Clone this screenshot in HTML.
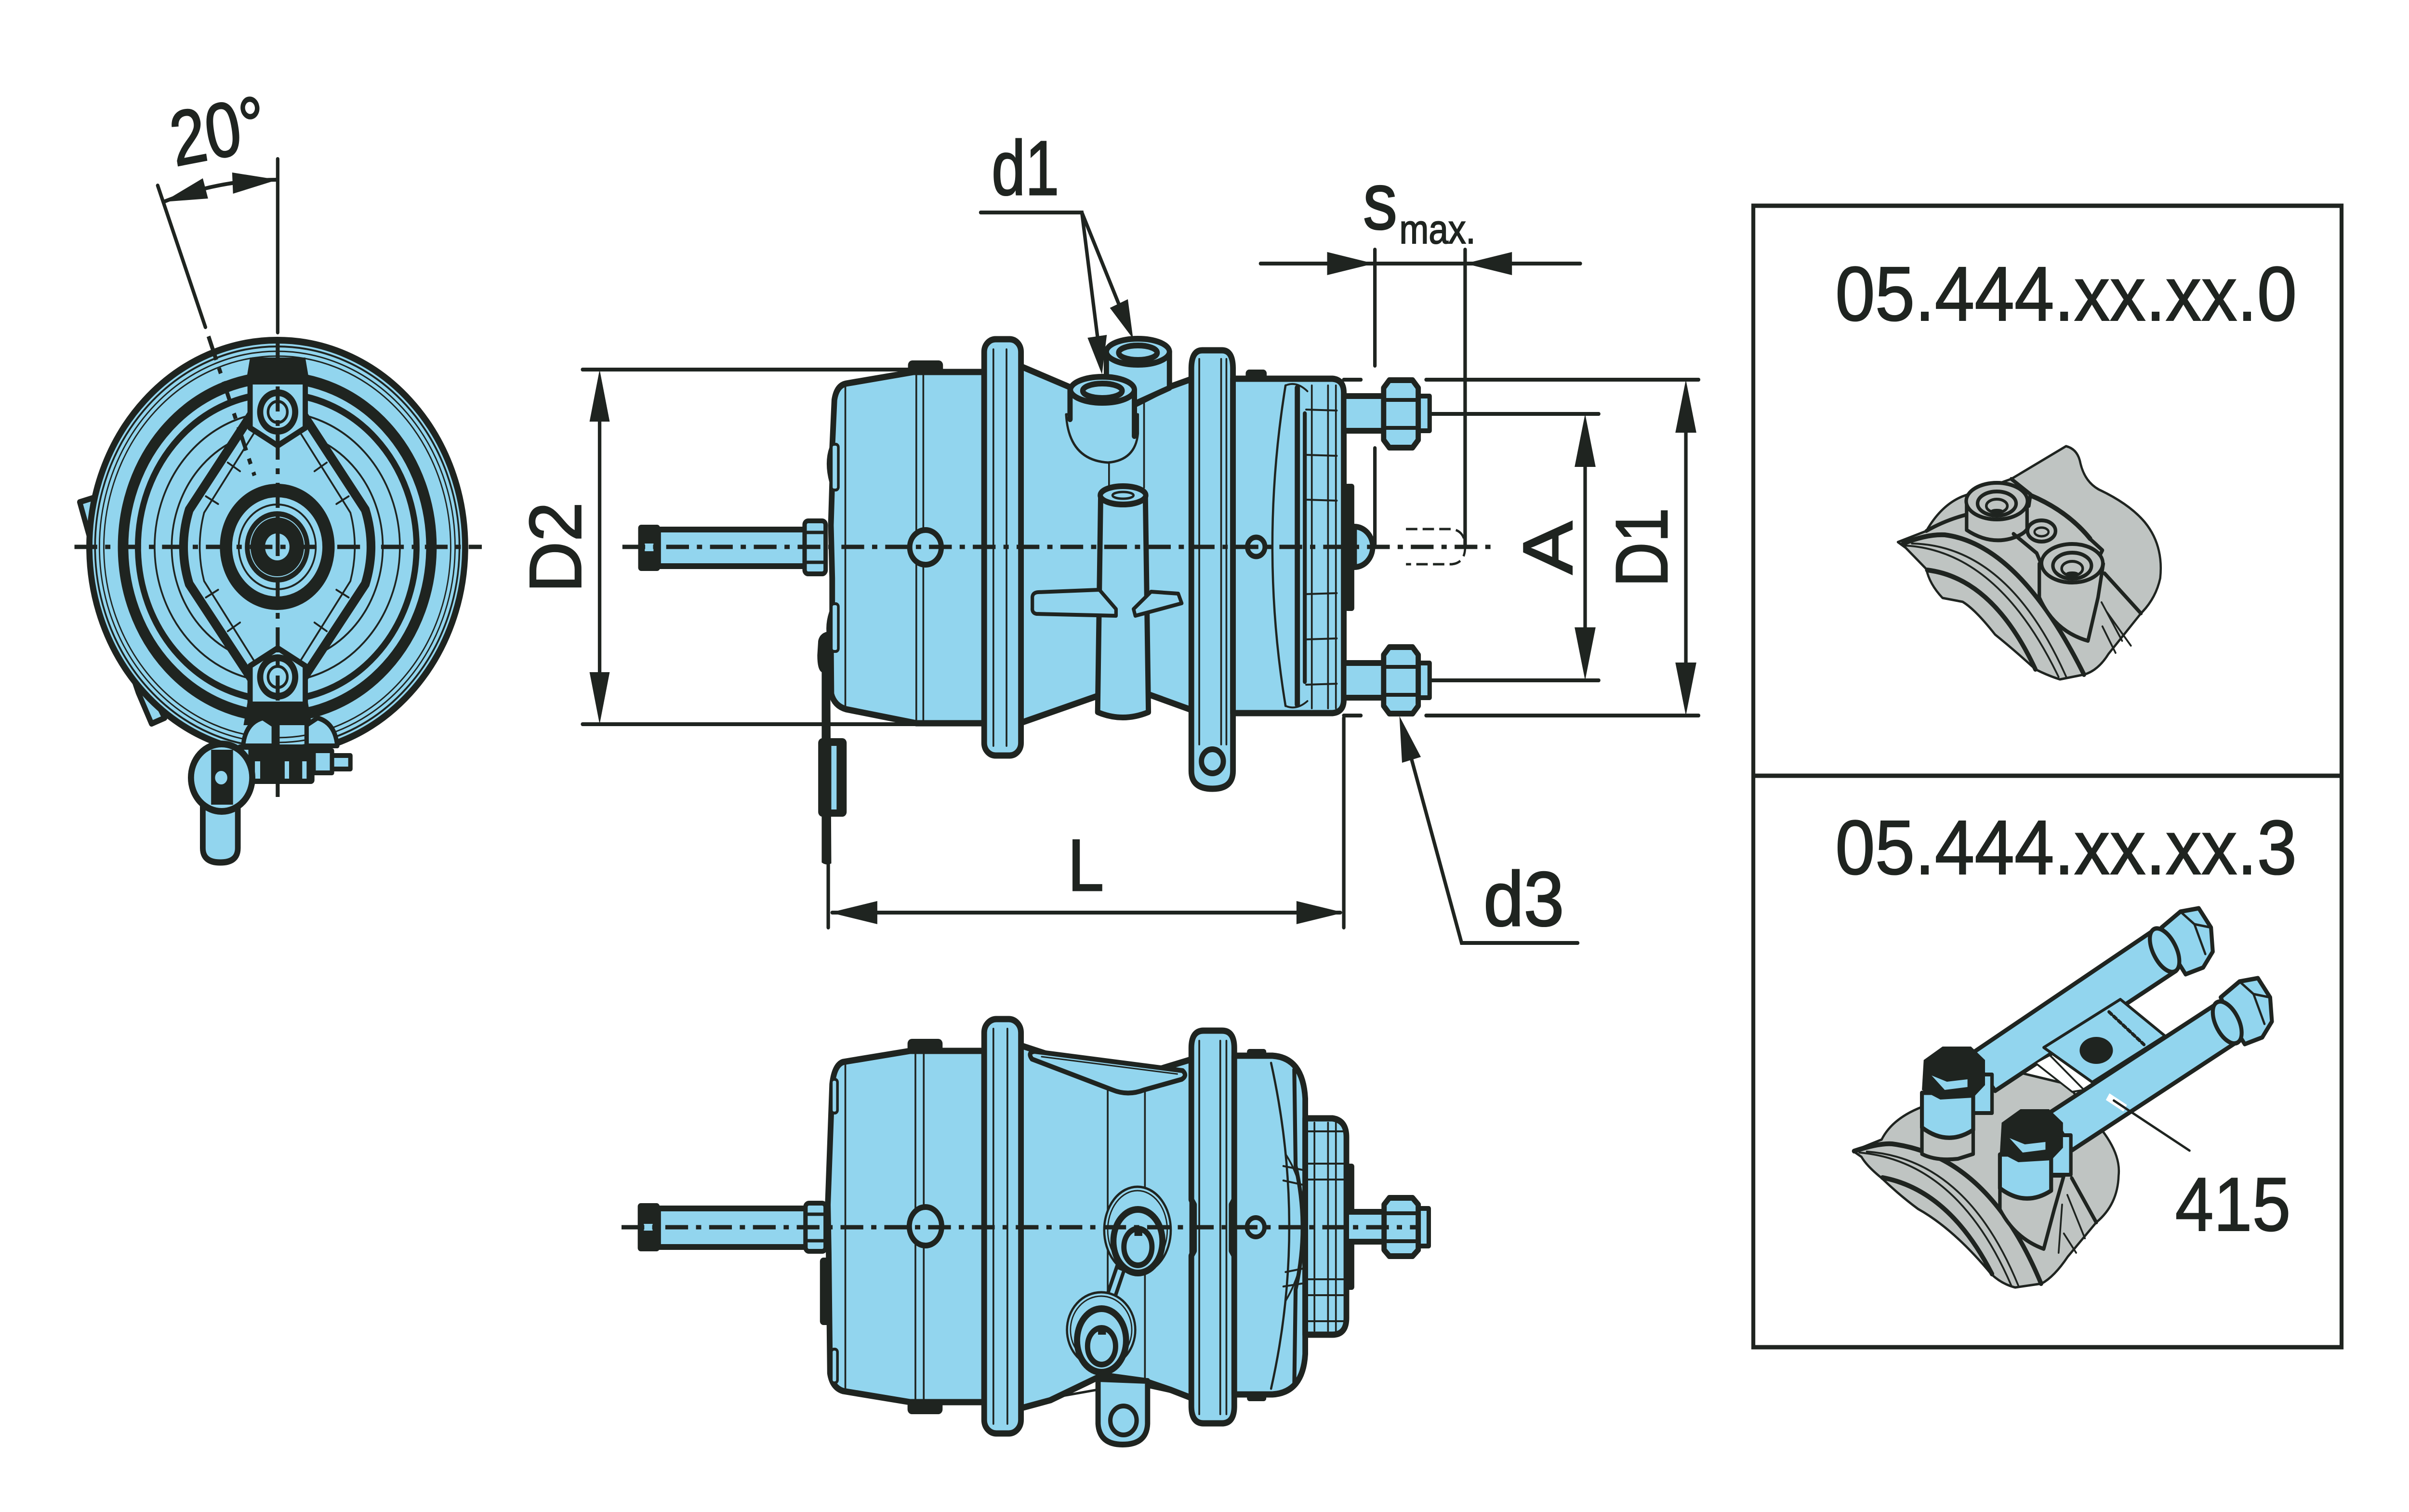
<!DOCTYPE html>
<html><head><meta charset="utf-8"><style>
html,body{margin:0;padding:0;background:#fff;width:100%;height:100%;overflow:hidden;}
svg{display:block;width:100vw;height:100vh;}
text{font-family:"Liberation Sans",Arial,sans-serif;fill:#1f2420;}
text.lb{stroke:#1f2420;stroke-width:3;}
.o{stroke:#1f2420;stroke-linejoin:round;stroke-linecap:round;}
.b{fill:#92d5ee;}
.n{fill:none;}
.g{fill:#bfc4c2;}
.d{fill:#1f2420;}
.cl{stroke:#1f2420;stroke-width:9;stroke-dasharray:52 18 12 18;fill:none;}
.dim{stroke:#1f2420;stroke-width:8;fill:none;stroke-linecap:round;}
</style></head><body>
<svg xmlns="http://www.w3.org/2000/svg" viewBox="0 0 5500 3138" preserveAspectRatio="none">
<rect width="5500" height="3138" fill="#fff"/>

<!-- ================= END VIEW ================= -->
<path class="o b" stroke-width="12" d="M182 1042 L224 1030 L232 1066 L228 1125 L272 1300 L376 1490 L346 1502 L316 1438 L250 1262 Z"/>
<path class="o b" stroke-width="13" d="M463 1650 L463 1760 Q463 1790 503 1790 Q543 1790 543 1760 L543 1650 Z"/>
<circle class="o b" stroke-width="14" cx="633" cy="1135" r="429"/>
<circle class="o n" stroke-width="4" cx="633" cy="1135" r="416"/>
<circle class="o n" stroke-width="3" cx="633" cy="1135" r="406"/>
<circle class="o n" stroke-width="3" cx="633" cy="1135" r="396"/>
<circle class="o n" stroke-width="24" cx="633" cy="1135" r="352"/>
<circle class="o n" stroke-width="14" cx="633" cy="1135" r="318"/>
<circle class="o n" stroke-width="4" cx="633" cy="1135" r="280"/>
<circle class="o n" stroke-width="4" cx="633" cy="1135" r="241"/>
<path class="o b" stroke-width="20" d="M633 778 L432 1058 Q406 1135 432 1212 L633 1490 L834 1212 Q860 1135 834 1058 Z"/>
<path class="o n" stroke-width="4" d="M633 822 L466 1064 Q446 1135 466 1206 L633 1448 L800 1206 Q820 1135 800 1064 Z"/>
<path class="o n" stroke-width="4" d="M520 960 L548 978 M470 1030 L498 1046 M470 1240 L498 1224 M520 1310 L548 1292 M746 960 L718 978 M796 1030 L768 1046 M796 1240 L768 1224 M746 1310 L718 1292"/>
<path class="d" d="M571 742 L697 742 L707 796 L561 796 Z"/>
<path class="o b" stroke-width="12" d="M571 792 L697 792 L697 888 L634 925 L571 888 Z"/>
<circle class="o b" stroke-width="14" cx="634" cy="855" r="40"/>
<circle class="o n" stroke-width="6" cx="634" cy="855" r="22"/>
<path class="d" d="M565 1458 L703 1458 L712 1505 L556 1505 Z"/>
<path class="o b" stroke-width="12" d="M571 1382 L634 1345 L697 1382 L697 1462 L571 1462 Z"/>
<circle class="o b" stroke-width="14" cx="634" cy="1405" r="40"/>
<circle class="o n" stroke-width="6" cx="634" cy="1405" r="22"/>
<circle class="o b" stroke-width="28" cx="633" cy="1135" r="117"/>
<circle class="o n" stroke-width="4" cx="633" cy="1135" r="88"/>
<circle class="d" cx="633" cy="1135" r="74"/>
<circle fill="none" stroke="#92d5ee" stroke-width="2" cx="633" cy="1135" r="62"/>
<circle class="b" cx="633" cy="1135" r="28"/>
<!-- clamp -->
<path class="o b" stroke-width="10" d="M555 1548 Q560 1500 600 1490 L625 1505 L625 1548 Z"/>
<path class="o b" stroke-width="10" d="M700 1548 L700 1505 L725 1490 Q765 1500 770 1548 Z"/>
<rect class="d" x="540" y="1545" width="178" height="82" rx="8"/>
<rect class="b" x="553" y="1556" width="14" height="60"/>
<rect class="b" x="582" y="1580" width="12" height="36"/>
<rect class="b" x="650" y="1580" width="10" height="36"/>
<rect class="b" x="690" y="1580" width="10" height="36"/>
<rect class="o b" stroke-width="10" x="716" y="1558" width="42" height="46"/>
<rect class="o b" stroke-width="10" x="758" y="1568" width="42" height="28"/>
<circle class="o b" stroke-width="14" cx="506" cy="1614" r="70"/>
<rect class="d" x="482" y="1556" width="50" height="114"/>
<circle class="o b" stroke-width="8" cx="505" cy="1614" r="18"/>
<!-- centerlines -->
<line class="dim" x1="634" y1="330" x2="634" y2="690"/>
<line class="cl" x1="634" y1="702" x2="634" y2="1655"/>
<line class="cl" x1="170" y1="1135" x2="1100" y2="1135"/>
<!-- 20 deg -->
<line class="dim" x1="360" y1="385" x2="469" y2="679"/>
<line class="cl" x1="476" y1="698" x2="581" y2="987"/>
<path class="dim" d="M373 419 A762 762 0 0 1 634 373"/>
<polygon class="d" points="373,419 475,412 463,370"/>
<polygon class="d" points="634,373 532,402 530,358"/>
<text class="lb" x="400" y="345" font-size="160" transform="rotate(-10 400 345)" textLength="218" lengthAdjust="spacingAndGlyphs">20°</text>

<!-- D2 -->
<line class="dim" x1="1330" y1="767" x2="2090" y2="767"/>
<line class="dim" x1="1330" y1="1503" x2="2245" y2="1503"/>
<line class="dim" x1="1369" y1="800" x2="1369" y2="1470"/>
<polygon class="d" points="1369,767 1346,875 1392,875"/>
<polygon class="d" points="1369,1503 1346,1395 1392,1395"/>
<text class="lb" transform="translate(1326 1230) rotate(-90)" font-size="168" textLength="188" lengthAdjust="spacingAndGlyphs">D2</text>

<!-- ================= SIDE VIEW ================= -->
<path class="d" d="M1868 1330 Q1872 1312 1895 1310 L1898 1792 Q1886 1797 1876 1790 L1876 1395 Q1866 1390 1866 1360 Z"/>
<rect class="d" x="1868" y="1532" width="65" height="163" rx="10"/>
<rect class="b" x="1898" y="1548" width="12" height="132"/>
<line class="dim" x1="1891" y1="1790" x2="1891" y2="1925"/>
<rect class="o b" stroke-width="12" x="1503" y="1099" width="340" height="76"/>
<rect class="d" x="1457" y="1089" width="50" height="96" rx="7"/>
<rect class="b" x="1472" y="1128" width="20" height="16"/>
<rect class="o b" stroke-width="10" x="1837" y="1081" width="48" height="110" rx="8"/>
<line class="o" stroke-width="7" x1="1840" y1="1105" x2="1882" y2="1105"/>
<line class="o" stroke-width="7" x1="1840" y1="1167" x2="1882" y2="1167"/>
<path class="o b" stroke-width="13" d="M1905 830 Q1910 800 1932 796 L2086 772 L2247 772 L2247 1501 L2092 1501 L1932 1472 Q1905 1465 1898 1440 L1897 1330 Q1888 1300 1900 1270 L1900 1200 L1897 1090 L1900 1000 Q1888 960 1900 930 Z"/>
<line class="o" stroke-width="4" x1="1930" y1="798" x2="1930" y2="1470"/>
<line class="o" stroke-width="4" x1="2092" y1="774" x2="2092" y2="1499"/>
<line class="o" stroke-width="4" x1="2108" y1="774" x2="2108" y2="1499"/>
<rect class="d" x="2073" y="748" width="80" height="28" rx="10"/>
<circle class="o b" stroke-width="12" cx="2113" cy="1136" r="36"/>
<rect class="o b" stroke-width="6" x="1898" y="922" width="16" height="95" rx="6"/>
<rect class="o b" stroke-width="6" x="1898" y="1253" width="16" height="99" rx="6"/>
<!-- neck -->
<path class="o b" stroke-width="13" d="M2325 758 L2449 806 L2590 840 L2670 803 L2722 786 L2722 1474 L2622 1441 L2507 1444 L2325 1502 Z"/>
<line class="o" stroke-width="4" x1="2532" y1="940" x2="2532" y2="1012"/>
<line class="o" stroke-width="4" x1="2612" y1="830" x2="2612" y2="1012"/>
<!-- port 2 -->
<path class="o b" stroke-width="12" d="M2526 730 L2526 806 L2590 838 L2670 805 L2670 730 Z"/>
<ellipse class="o b" stroke-width="12" cx="2598" cy="730" rx="72" ry="27"/>
<ellipse class="o n" stroke-width="12" cx="2598" cy="732" rx="44" ry="15"/>
<!-- port 1 -->
<path class="o b" stroke-width="5" d="M2434 860 Q2440 955 2530 960 Q2592 955 2598 900 L2598 860 Z"/>
<rect class="b" x="2443" y="809" width="147" height="70"/>
<line class="o" stroke-width="12" x1="2443" y1="809" x2="2443" y2="870"/>
<line class="o" stroke-width="12" x1="2590" y1="809" x2="2590" y2="905"/>
<ellipse class="o b" stroke-width="12" cx="2517" cy="809" rx="73" ry="27"/>
<ellipse class="o n" stroke-width="12" cx="2517" cy="811" rx="45" ry="15"/>
<!-- tube -->
<path class="o b" stroke-width="12" d="M2513 1028 L2506 1478 Q2563 1500 2622 1478 L2615 1028 Z"/>
<ellipse class="o b" stroke-width="12" cx="2564" cy="1028" rx="52" ry="19"/>
<ellipse class="o n" stroke-width="5" cx="2564" cy="1028" rx="24" ry="7"/>
<path class="o b" stroke-width="8" d="M2357 1242 Q2356 1230 2370 1229 L2510 1224 L2548 1264 L2548 1278 L2366 1274 Q2356 1272 2357 1262 Z"/>
<path class="o b" stroke-width="8" d="M2588 1264 L2628 1228 L2690 1232 L2698 1252 L2592 1278 Z"/>
<!-- flange 1 -->
<rect class="o b" stroke-width="13" x="2247" y="704" width="84" height="864" rx="26"/>
<line class="o" stroke-width="4" x1="2268" y1="725" x2="2268" y2="1548"/>
<line class="o" stroke-width="4" x1="2298" y1="725" x2="2298" y2="1548"/>
<!-- flange 2 -->
<path class="o b" stroke-width="13" d="M2745 727 L2790 727 Q2815 727 2815 765 L2815 1600 Q2815 1637 2768 1637 Q2720 1637 2720 1600 L2720 765 Q2720 727 2745 727 Z"/>
<line class="o" stroke-width="4" x1="2738" y1="745" x2="2738" y2="1545"/>
<line class="o" stroke-width="4" x1="2788" y1="745" x2="2788" y2="1545"/>
<line class="o" stroke-width="4" x1="2800" y1="745" x2="2800" y2="1545"/>
<circle class="o b" stroke-width="12" cx="2768" cy="1580" r="25"/>
<!-- right housing -->
<path class="o b" stroke-width="13" d="M2815 786 L3042 786 Q3068 788 3068 815 L3068 1452 Q3068 1478 3042 1480 L2815 1480 Z"/>
<rect class="d" x="2844" y="767" width="48" height="22" rx="8"/>
<path class="o n" stroke-width="5" d="M2935 800 Q2875 1135 2935 1465"/>
<line class="o" stroke-width="12" x1="2962" y1="805" x2="2962" y2="1462"/>
<line class="o" stroke-width="9" x1="2979" y1="858" x2="2979" y2="1415"/>
<line class="o" stroke-width="4" x1="2995" y1="800" x2="2995" y2="1470"/>
<line class="o" stroke-width="4" x1="3032" y1="800" x2="3032" y2="1470"/>
<line class="o" stroke-width="4" x1="3050" y1="800" x2="3050" y2="1470"/>
<path class="o n" stroke-width="4" d="M2982 850 L3052 852 M2982 944 L3052 946 M2982 1037 L3052 1039 M2982 1233 L3052 1231 M2982 1327 L3052 1325 M2982 1421 L3052 1419"/>
<path class="o n" stroke-width="4" d="M2935 800 Q2960 790 2985 812 M2935 1465 Q2960 1475 2985 1455"/>
<circle class="o b" stroke-width="11" cx="2868" cy="1135" r="20"/>
<rect class="d" x="3070" y="1004" width="22" height="264" rx="6"/>
<path class="o b" stroke-width="12" d="M3092 1093 A42 42 0 0 1 3092 1177 Z"/>
<!-- bolts -->
<rect class="o b" stroke-width="12" x="3068" y="822" width="95" height="72"/>
<rect class="o b" stroke-width="10" x="3236" y="822" width="28" height="72"/>
<path class="o b" stroke-width="12" d="M3172 789 L3225 789 L3238 805 L3238 913 L3225 929 L3172 929 L3159 913 L3159 805 Z"/>
<line class="o" stroke-width="8" x1="3162" y1="830" x2="3235" y2="830"/>
<line class="o" stroke-width="8" x1="3162" y1="888" x2="3235" y2="888"/>
<rect class="o b" stroke-width="12" x="3068" y="1376" width="95" height="72"/>
<rect class="o b" stroke-width="10" x="3236" y="1376" width="28" height="72"/>
<path class="o b" stroke-width="12" d="M3172 1343 L3225 1343 L3238 1359 L3238 1465 L3225 1481 L3172 1481 L3159 1465 L3159 1359 Z"/>
<line class="o" stroke-width="8" x1="3162" y1="1384" x2="3235" y2="1384"/>
<line class="o" stroke-width="8" x1="3162" y1="1442" x2="3235" y2="1442"/>
<path fill="none" stroke="#1f2420" stroke-width="5" stroke-dasharray="26 12" d="M3210 1098 L3315 1098 Q3345 1102 3345 1135 Q3345 1168 3315 1171 L3210 1171"/>
<line class="cl" x1="1421" y1="1135" x2="3418" y2="1135"/>

<!-- s max -->
<line class="dim" x1="2878" y1="547" x2="3608" y2="547"/>
<polygon class="d" points="3137,547 3030,523 3030,571"/>
<polygon class="d" points="3345,547 3452,523 3452,571"/>
<line class="dim" x1="3139" y1="518" x2="3139" y2="759"/>
<line class="dim" x1="3139" y1="930" x2="3139" y2="1135"/>
<line class="dim" x1="3345" y1="518" x2="3345" y2="1135"/>
<text class="lb" x="3112" y="475" font-size="167" textLength="78" lengthAdjust="spacingAndGlyphs">s</text>
<text x="3195" y="505" font-size="84" textLength="174" lengthAdjust="spacingAndGlyphs" style="stroke:#1f2420;stroke-width:2">max.</text>

<!-- d1 -->
<polyline class="dim" points="2239,441 2470,441 2510,730"/>
<line class="dim" x1="2470" y1="441" x2="2565" y2="655"/>
<polygon class="d" points="2516,777 2527,695 2483,701"/>
<polygon class="d" points="2587,703 2575,621 2534,639"/>
<text class="lb" x="2264" y="404" font-size="160" textLength="154" lengthAdjust="spacingAndGlyphs">d1</text>

<!-- A / D1 -->
<line class="dim" x1="3265" y1="859" x2="3650" y2="859"/>
<line class="dim" x1="3265" y1="1412" x2="3650" y2="1412"/>
<line class="dim" x1="3619" y1="890" x2="3619" y2="1380"/>
<polygon class="d" points="3619,859 3595,969 3643,969"/>
<polygon class="d" points="3619,1412 3595,1302 3643,1302"/>
<text class="lb" transform="translate(3589 1192) rotate(-90)" font-size="160" textLength="110" lengthAdjust="spacingAndGlyphs">A</text>
<line class="dim" x1="3256" y1="788" x2="3878" y2="788"/>
<line class="dim" x1="3256" y1="1485" x2="3878" y2="1485"/>
<line class="dim" x1="3068" y1="788" x2="3107" y2="788"/>
<line class="dim" x1="3068" y1="1485" x2="3107" y2="1485"/>
<line class="dim" x1="3849" y1="820" x2="3849" y2="1450"/>
<polygon class="d" points="3849,788 3825,898 3873,898"/>
<polygon class="d" points="3849,1485 3825,1375 3873,1375"/>
<text class="lb" transform="translate(3806 1218) rotate(-90)" font-size="168" textLength="164" lengthAdjust="spacingAndGlyphs">D1</text>

<!-- L -->
<line class="dim" x1="1900" y1="1894" x2="3060" y2="1894"/>
<polygon class="d" points="1895,1894 2003,1870 2003,1918"/>
<polygon class="d" points="3068,1894 2960,1870 2960,1918"/>
<line class="dim" x1="3068" y1="1490" x2="3068" y2="1925"/>
<text class="lb" x="2438" y="1848" font-size="152" textLength="82" lengthAdjust="spacingAndGlyphs">L</text>

<!-- d3 -->
<polyline class="dim" points="3215,1550 3337,1957 3602,1957"/>
<polygon class="d" points="3195,1486 3244,1571 3201,1583"/>
<text class="lb" x="3387" y="1921" font-size="160" textLength="184" lengthAdjust="spacingAndGlyphs">d3</text>

<!-- ================= BOTTOM VIEW ================= -->
<rect class="o b" stroke-width="12" x="1503" y="2508" width="340" height="80"/>
<rect class="d" x="1456" y="2497" width="50" height="100" rx="7"/>
<rect class="b" x="1470" y="2540" width="20" height="14"/>
<rect class="o b" stroke-width="10" x="1839" y="2497" width="46" height="100" rx="8"/>
<line class="o" stroke-width="7" x1="1842" y1="2520" x2="1882" y2="2520"/>
<line class="o" stroke-width="7" x1="1842" y1="2575" x2="1882" y2="2575"/>
<path class="o b" stroke-width="13" d="M1900 2250 Q1905 2210 1925 2204 L2078 2181 L2247 2181 L2247 2910 L2078 2910 L1925 2887 Q1900 2880 1895 2850 L1892 2600 L1890 2500 Z"/>
<rect class="d" x="1872" y="2610" width="24" height="140" rx="8"/>
<rect class="o b" stroke-width="6" x="1898" y="2240" width="14" height="70" rx="6"/>
<rect class="o b" stroke-width="6" x="1898" y="2800" width="14" height="70" rx="6"/>
<line class="o" stroke-width="4" x1="1930" y1="2206" x2="1930" y2="2885"/>
<line class="o" stroke-width="4" x1="2090" y1="2183" x2="2090" y2="2908"/>
<line class="o" stroke-width="4" x1="2109" y1="2183" x2="2109" y2="2908"/>
<rect class="d" x="2072" y="2156" width="80" height="28" rx="10"/>
<rect class="d" x="2072" y="2907" width="80" height="28" rx="10"/>
<ellipse class="o b" stroke-width="12" cx="2113" cy="2545" rx="37" ry="40"/>
<!-- neck -->
<path class="o b" stroke-width="13" d="M2325 2168 L2432 2200 L2650 2218 L2722 2198 L2722 2902 L2674 2885 L2613 2866 L2517 2854 L2398 2906 L2325 2924 Z"/>
<path class="o b" stroke-width="10" d="M2356 2198 Q2345 2184 2362 2182 L2700 2222 Q2712 2232 2698 2240 L2612 2262 Q2575 2275 2540 2262 Z"/>
<path class="o n" stroke-width="3" d="M2378 2193 L2688 2229"/>
<line class="o" stroke-width="4" x1="2529" y1="2262" x2="2529" y2="2854"/>
<line class="o" stroke-width="4" x1="2614" y1="2262" x2="2614" y2="2866"/>
<path class="o n" stroke-width="5" d="M2420 2898 L2507 2884 M2620 2878 L2690 2892"/>
<path class="o b" stroke-width="12" d="M2507 2862 L2507 2955 Q2510 2998 2563 2998 Q2618 2998 2620 2955 L2620 2866 Z"/>
<circle class="o b" stroke-width="10" cx="2565" cy="2948" r="30"/>
<!-- ports -->
<line stroke="#1f2420" stroke-width="26" stroke-linecap="round" x1="2559" y1="2630" x2="2530" y2="2708"/>
<line stroke="#92d5ee" stroke-width="10" x1="2557" y1="2636" x2="2532" y2="2702"/>
<ellipse class="o b" stroke-width="5" cx="2597" cy="2553" rx="76" ry="90"/>
<ellipse class="o n" stroke-width="3" cx="2597" cy="2553" rx="68" ry="82"/>
<ellipse class="o b" stroke-width="14" cx="2598" cy="2576" rx="56" ry="66"/>
<ellipse class="o n" stroke-width="12" cx="2598" cy="2588" rx="32" ry="38"/>
<rect class="d" x="2590" y="2555" width="18" height="10"/>
<ellipse class="o b" stroke-width="5" cx="2514" cy="2760" rx="78" ry="78"/>
<ellipse class="o n" stroke-width="3" cx="2514" cy="2760" rx="70" ry="70"/>
<ellipse class="o b" stroke-width="14" cx="2515" cy="2782" rx="56" ry="66"/>
<ellipse class="o n" stroke-width="12" cx="2515" cy="2794" rx="32" ry="38"/>
<rect class="d" x="2507" y="2760" width="18" height="10"/>
<!-- flange 1 -->
<rect class="o b" stroke-width="13" x="2247" y="2115" width="84" height="860" rx="28"/>
<line class="o" stroke-width="4" x1="2268" y1="2135" x2="2268" y2="2955"/>
<line class="o" stroke-width="4" x1="2300" y1="2135" x2="2300" y2="2955"/>
<!-- flange 2 -->
<path class="o b" stroke-width="13" d="M2748 2139 L2790 2139 Q2818 2139 2818 2175 L2818 2490 L2812 2500 L2812 2596 L2818 2606 L2818 2918 Q2818 2954 2790 2954 L2748 2954 Q2720 2954 2720 2918 L2720 2606 L2726 2596 L2726 2500 L2720 2490 L2720 2175 Q2720 2139 2748 2139 Z"/>
<line class="o" stroke-width="4" x1="2738" y1="2160" x2="2738" y2="2935"/>
<line class="o" stroke-width="4" x1="2786" y1="2160" x2="2786" y2="2935"/>
<line class="o" stroke-width="4" x1="2800" y1="2160" x2="2800" y2="2935"/>
<!-- right housing -->
<path class="o b" stroke-width="13" d="M2818 2191 L2905 2191 Q2975 2195 2980 2280 L2980 2810 Q2975 2890 2905 2894 L2818 2894 Z"/>
<rect class="d" x="2847" y="2177" width="44" height="18" rx="6"/>
<rect class="d" x="2847" y="2890" width="44" height="18" rx="6"/>
<path class="o n" stroke-width="5" d="M2902 2206 Q2985 2547 2902 2882"/>
<path class="o n" stroke-width="9" d="M2955 2220 L2958 2420 Q2990 2547 2958 2676 L2955 2876"/>
<path class="o n" stroke-width="4" d="M2935 2395 Q2975 2450 2985 2547 Q2975 2640 2935 2700 M2930 2420 L2985 2430 M2930 2450 L2990 2462 M2935 2640 L2990 2630 M2930 2670 L2985 2662"/>
<!-- end cap -->
<path class="o b" stroke-width="13" d="M2980 2321 L3042 2321 Q3074 2325 3074 2360 L3074 2735 Q3074 2770 3042 2770 L2980 2770 Z"/>
<line class="o" stroke-width="4" x1="3001" y1="2330" x2="3001" y2="2762"/>
<line class="o" stroke-width="4" x1="3032" y1="2330" x2="3032" y2="2762"/>
<line class="o" stroke-width="4" x1="3050" y1="2330" x2="3050" y2="2762"/>
<path class="o n" stroke-width="4" d="M2985 2348 L3068 2348 M2985 2415 L3068 2415 M2985 2448 L3068 2448 M2985 2655 L3068 2655 M2985 2688 L3068 2688 M2985 2742 L3068 2742"/>
<rect class="d" x="3072" y="2415" width="20" height="262" rx="6"/>
<circle class="o b" stroke-width="10" cx="2867" cy="2547" r="20"/>
<rect class="o b" stroke-width="12" x="3074" y="2515" width="88" height="62"/>
<rect class="o b" stroke-width="10" x="3236" y="2508" width="26" height="78"/>
<path class="o b" stroke-width="12" d="M3172 2486 L3225 2486 L3238 2500 L3238 2594 L3225 2607 L3172 2607 L3160 2594 L3160 2500 Z"/>
<line class="o" stroke-width="8" x1="3163" y1="2518" x2="3235" y2="2518"/>
<line class="o" stroke-width="8" x1="3163" y1="2576" x2="3235" y2="2576"/>
<line class="cl" x1="1419" y1="2547" x2="3241" y2="2547"/>

<!-- ================= RIGHT BOX ================= -->
<rect x="4003" y="427" width="1343" height="2369" fill="none" stroke="#1f2420" stroke-width="9"/>
<line x1="4003" y1="1610" x2="5346" y2="1610" stroke="#1f2420" stroke-width="9"/>
<text x="4190" y="665" font-size="160" textLength="1054" lengthAdjust="spacingAndGlyphs" style="stroke:#1f2420;stroke-width:2">05.444.xx.xx.0</text>
<text x="4190" y="1814" font-size="160" textLength="1054" lengthAdjust="spacingAndGlyphs" style="stroke:#1f2420;stroke-width:2">05.444.xx.xx.3</text>
<text x="4966" y="2554" font-size="158" textLength="264" lengthAdjust="spacingAndGlyphs" style="stroke:#1f2420;stroke-width:2">415</text>

<!-- top detail -->
<path class="o g" stroke-width="5" d="M4333 1125 L4398 1102 Q4432 1048 4481 1030 L4592 994 L4717 926 Q4744 932 4750 962 Q4760 1000 4792 1016 Q4862 1046 4897 1084 Q4940 1132 4932 1200 Q4922 1242 4888 1273 L4814 1357 Q4790 1392 4758 1400 L4703 1410 Q4675 1402 4647 1389 Q4600 1350 4555 1317 Q4510 1265 4481 1249 L4435 1241 Q4405 1212 4398 1181 L4351 1137 Z"/>
<path class="o n" stroke-width="10" d="M4400 1183 Q4550 1200 4647 1389"/>
<path class="o n" stroke-width="4" d="M4345 1132 Q4560 1140 4700 1405"/>
<path class="o n" stroke-width="4" d="M4365 1128 Q4585 1132 4718 1406"/>
<path class="o n" stroke-width="10" d="M4345 1128 Q4400 1108 4440 1110 Q4610 1130 4758 1400"/>
<path class="o n" stroke-width="10" d="M4636 1028 Q4720 1060 4772 1118"/>
<path class="o n" stroke-width="8" d="M4398 1102 Q4440 1080 4490 1068"/>
<path class="o n" stroke-width="8" d="M4805 1190 L4888 1273"/>
<path class="o n" stroke-width="4" d="M4798 1250 L4845 1330 M4810 1270 L4865 1340 M4800 1300 L4830 1355"/>
<path class="o g" stroke-width="8" d="M4490 1040 L4490 1100 Q4540 1130 4590 1118 Q4620 1110 4628 1098 L4628 1040 Z"/>
<ellipse class="o g" stroke-width="8" cx="4559" cy="1040" rx="70" ry="38"/>
<ellipse class="o n" stroke-width="8" cx="4559" cy="1045" rx="44" ry="25"/>
<ellipse class="o n" stroke-width="6" cx="4559" cy="1050" rx="24" ry="14"/>
<ellipse class="d" cx="4559" cy="1060" rx="14" ry="4"/>
<ellipse class="o g" stroke-width="8" cx="4661" cy="1102" rx="32" ry="22"/>
<ellipse class="o n" stroke-width="5" cx="4661" cy="1104" rx="16" ry="9"/>
<path class="o n" stroke-width="8" d="M4592 994 L4636 1026 L4632 1050"/>
<path class="o n" stroke-width="8" d="M4597 1108 L4650 1148 L4660 1170"/>
<path class="o n" stroke-width="8" d="M4770 1117 L4800 1142 L4790 1160"/>
<path class="o g" stroke-width="8" d="M4656 1170 L4656 1240 Q4690 1310 4767 1330 L4790 1240 L4802 1170 Z"/>
<ellipse class="o g" stroke-width="8" cx="4731" cy="1169" rx="70" ry="40"/>
<ellipse class="o n" stroke-width="8" cx="4731" cy="1174" rx="44" ry="27"/>
<ellipse class="o n" stroke-width="6" cx="4731" cy="1180" rx="24" ry="15"/>
<ellipse class="d" cx="4731" cy="1190" rx="14" ry="4"/>

<!-- bottom detail -->
<path class="o g" stroke-width="5" d="M4231 2389 L4296 2365 Q4322 2318 4398 2294 L4560 2215 L4720 2250 L4805 2353 Q4842 2400 4837 2440 Q4835 2500 4786 2537 L4721 2608 Q4690 2650 4661 2664 L4601 2672 Q4570 2665 4546 2644 Q4460 2550 4379 2509 Q4336 2480 4296 2445 Q4262 2420 4250 2401 Z"/>
<path class="o n" stroke-width="10" d="M4298 2444 Q4450 2470 4548 2644"/>
<path class="o n" stroke-width="4" d="M4245 2392 Q4470 2410 4592 2668"/>
<path class="o n" stroke-width="4" d="M4262 2390 Q4490 2405 4608 2668"/>
<path class="o n" stroke-width="10" d="M4233 2389 Q4290 2372 4320 2374 Q4540 2400 4660 2664"/>
<path class="o n" stroke-width="8" d="M4730 2445 L4786 2537"/>
<path class="o n" stroke-width="4" d="M4708 2500 L4700 2600 M4720 2480 L4760 2570 M4712 2560 L4740 2600"/>
<path class="o b" stroke-width="9" d="M4935 1925 L4978 1892 L5020 1885 L5048 1925 L5052 1975 L5030 2008 L4990 2022 L4968 1990 Z"/>
<path class="o n" stroke-width="5" d="M4978 1892 L5010 1918 L5035 1980 M5010 1918 L5048 1925"/>
<path class="o b" stroke-width="9" d="M4499 2188 L4915 1932 Q4960 1960 4968 2015 L4555 2264 Z"/>
<ellipse class="o b" stroke-width="9" cx="4942" cy="1972" rx="26" ry="50" transform="rotate(-30 4942 1972)"/>
<path fill="#fff" class="o" stroke-width="4" d="M4647 2206 L4680 2190 L4758 2262 L4731 2266 Z"/>
<path class="o b" stroke-width="6" d="M4666 2174 L4841 2074 L4943 2150 L4777 2246 Z"/>
<ellipse class="d" cx="4786" cy="2180" rx="38" ry="28"/>
<path class="o n" stroke-width="7" stroke-dasharray="8 6" d="M4815 2100 L4895 2168"/>
<path class="o b" stroke-width="9" d="M5070 2070 L5113 2037 L5155 2030 L5183 2070 L5187 2120 L5165 2153 L5125 2167 L5103 2135 Z"/>
<path class="o n" stroke-width="5" d="M5113 2037 L5145 2063 L5170 2125 M5145 2063 L5183 2070"/>
<path class="o b" stroke-width="9" d="M4680 2309 L5063 2082 Q5105 2110 5108 2162 L4731 2387 Z"/>
<ellipse class="o b" stroke-width="9" cx="5085" cy="2122" rx="26" ry="48" transform="rotate(-30 5085 2122)"/>
<!-- bolt 1 -->
<rect class="o b" stroke-width="8" x="4505" y="2230" width="43" height="80"/>
<path class="o g" stroke-width="8" d="M4388 2300 L4388 2395 Q4420 2410 4470 2405 L4505 2395 L4505 2300 Z"/>
<path class="o b" stroke-width="9" d="M4388 2268 L4388 2340 Q4446 2380 4505 2345 L4505 2268 Z"/>
<path class="d" d="M4392 2200 L4435 2172 L4500 2172 L4532 2200 L4532 2252 L4505 2278 L4430 2282 L4388 2262 Z"/>
<path class="b" d="M4410 2232 L4440 2262 L4492 2256 L4492 2240 L4445 2245 Z"/>
<!-- bolt 2 -->
<rect class="o b" stroke-width="8" x="4683" y="2356" width="45" height="82"/>
<path class="o g" stroke-width="8" d="M4566 2440 L4566 2510 Q4600 2570 4666 2592 L4690 2510 L4712 2440 Z"/>
<path class="o b" stroke-width="9" d="M4566 2396 L4566 2466 Q4624 2506 4683 2471 L4683 2396 Z"/>
<path class="d" d="M4570 2330 L4613 2302 L4678 2302 L4710 2330 L4710 2382 L4683 2408 L4608 2412 L4566 2392 Z"/>
<path class="b" d="M4588 2362 L4618 2392 L4670 2386 L4670 2370 L4623 2375 Z"/>
<!-- 415 leader -->
<line stroke="#fff" stroke-width="16" x1="4812" y1="2276" x2="4852" y2="2300"/>
<line stroke="#1f2420" stroke-width="5" stroke-linecap="round" x1="4826" y1="2284" x2="4999" y2="2388"/>
</svg>
</body></html>
